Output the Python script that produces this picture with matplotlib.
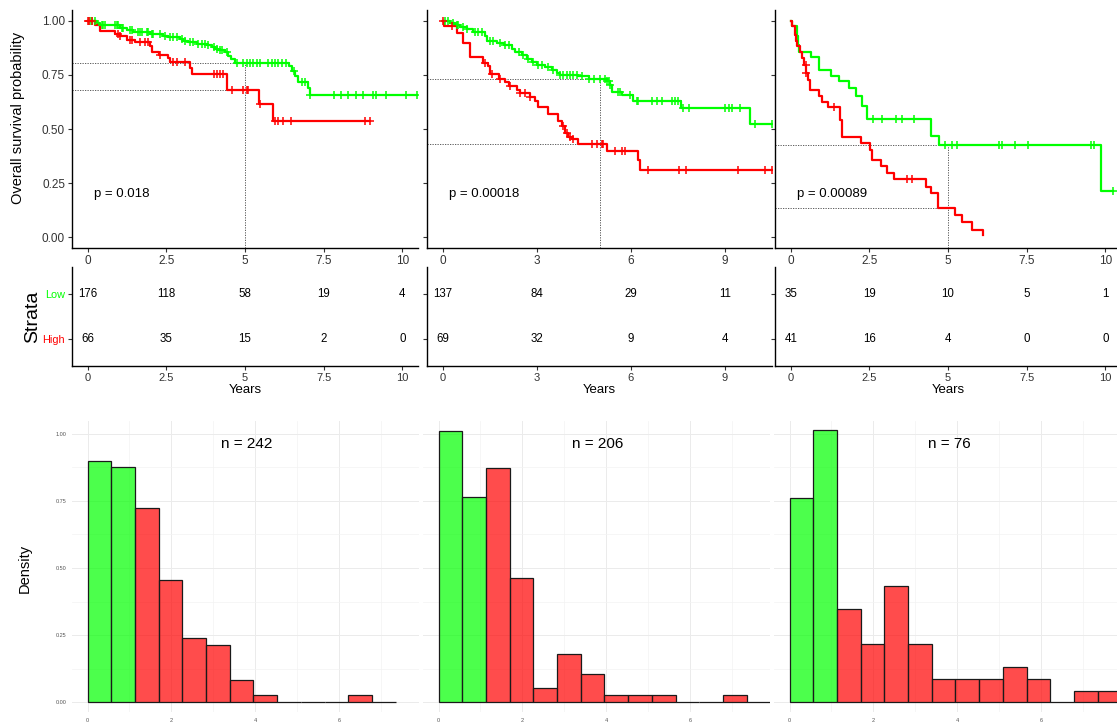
import numpy as np
import matplotlib
matplotlib.use("Agg")
import matplotlib.pyplot as plt

plt.rcParams['font.family'] = ['Liberation Sans', 'DejaVu Sans']

# ---------------- data ----------------
# Kaplan-Meier step functions (event times, survival after each event), end time, censor times
km1_low_t = [0.28, 0.39, 1.03, 1.24, 1.45, 1.98, 2.4, 2.56, 2.93, 3.04, 3.2, 3.46, 3.78, 3.94, 4.05, 4.15,
             4.36, 4.47, 4.57, 4.68, 6.41, 6.5, 6.6, 6.7, 7.0, 7.06]
km1_low_s = [0.99, 0.98, 0.969, 0.958, 0.949, 0.938, 0.931, 0.923, 0.915, 0.908, 0.9, 0.895, 0.887, 0.88, 0.872,
             0.864, 0.854, 0.838, 0.823, 0.806, 0.789, 0.766, 0.743, 0.718, 0.69, 0.655]
km1_low_end = 10.46
km1_low_c = [0.07, 0.13, 0.23, 0.44, 0.5, 0.55, 0.87, 0.92, 0.97, 1.08, 1.13, 1.34, 1.4, 1.61, 1.66, 1.72, 1.87,
             1.93, 2.03, 2.09, 2.3, 2.46, 2.62, 2.72, 2.83, 2.99, 3.09, 3.25, 3.36, 3.52, 3.62, 3.73, 3.83, 4.0,
             4.1, 4.2, 4.26, 4.42, 4.73, 4.95, 5.05, 5.16, 5.27, 5.37, 5.48, 5.74, 5.85, 5.95, 6.06, 6.17, 6.3,
             6.55, 6.8, 6.9, 7.06, 7.83, 8.06, 8.27, 8.54, 8.75, 9.07, 9.18, 9.49, 10.13, 10.46]
km1_high_t = [0.23, 0.39, 0.87, 1.03, 1.24, 1.5, 1.98, 2.03, 2.25, 2.56, 2.62, 3.25, 3.3, 4.42, 5.43, 5.88]
km1_high_s = [0.982, 0.951, 0.94, 0.928, 0.913, 0.902, 0.882, 0.858, 0.843, 0.828, 0.808, 0.782, 0.752, 0.678,
              0.614, 0.538]
km1_high_end = 8.97
km1_high_c = [0.02, 0.05, 0.13, 0.97, 1.03, 1.34, 1.4, 1.66, 1.82, 1.93, 2.3, 2.72, 2.83, 3.09, 4.0, 4.1, 4.2,
              4.3, 4.6, 4.95, 5.05, 5.1, 5.48, 5.95, 6.06, 6.2, 6.45, 8.8, 8.97]

km2_low_t = [0.23, 0.39, 0.55, 0.76, 0.98, 1.35, 1.4, 1.72, 1.94, 2.2, 2.31, 2.52, 2.68, 2.84, 3.0, 3.27, 3.48,
             3.64, 3.74, 4.33, 4.65, 5.23, 5.32, 5.39, 5.71, 6.08, 7.6, 9.79]
km2_low_s = [0.989, 0.98, 0.972, 0.963, 0.948, 0.928, 0.909, 0.897, 0.886, 0.871, 0.855, 0.84, 0.824, 0.809,
             0.797, 0.786, 0.774, 0.758, 0.751, 0.743, 0.732, 0.72, 0.704, 0.673, 0.655, 0.63, 0.596, 0.522]
km2_low_end = 10.55
km2_low_c = [0.07, 0.16, 0.34, 0.45, 0.5, 0.66, 0.77, 1.03, 1.14, 1.24, 1.51, 1.62, 1.83, 1.99, 2.1, 2.42, 2.57,
             2.73, 2.89, 3.05, 3.16, 3.37, 3.53, 3.74, 3.85, 3.96, 4.06, 4.17, 4.28, 4.44, 4.65, 4.81, 5.02, 5.18,
             5.23, 5.29, 5.34, 5.6, 5.66, 5.98, 6.19, 6.24, 6.67, 6.83, 6.99, 7.31, 7.41, 7.49, 7.65, 7.84, 9.01,
             9.12, 9.22, 9.47, 9.97, 10.5]
km2_high_t = [0.05, 0.45, 0.65, 0.88, 1.3, 1.46, 1.51, 1.78, 1.99, 2.1, 2.36, 2.47, 2.79, 2.95, 3.05, 3.37, 3.69,
              3.8, 3.9, 4.01, 4.12, 4.33, 5.23, 6.24, 6.29]
km2_high_s = [0.975, 0.945, 0.898, 0.835, 0.804, 0.789, 0.755, 0.732, 0.717, 0.7, 0.681, 0.666, 0.648, 0.628,
              0.602, 0.57, 0.537, 0.514, 0.483, 0.464, 0.452, 0.432, 0.4, 0.355, 0.31]
km2_high_end = 10.5
km2_high_c = [0.02, 0.29, 1.35, 1.56, 1.83, 2.15, 2.47, 2.63, 2.79, 3.85, 3.96, 4.06, 4.17, 4.75, 4.91, 5.07,
              5.12, 5.5, 5.71, 5.82, 6.56, 7.54, 7.76, 9.42, 10.27, 10.5]

km3_low_t = [0.05, 0.2, 0.24, 0.26, 0.63, 0.9, 1.27, 1.54, 1.85, 2.09, 2.26, 2.41, 4.45, 4.72, 9.88]
km3_low_s = [0.974, 0.93, 0.89, 0.858, 0.832, 0.774, 0.743, 0.72, 0.689, 0.651, 0.605, 0.548, 0.467, 0.427, 0.214]
km3_low_end = 10.23
km3_low_c = [2.6, 2.91, 3.34, 3.53, 3.92, 4.91, 5.14, 5.3, 6.62, 6.71, 7.13, 7.53, 9.54, 9.65, 10.23]
km3_high_t = [0.05, 0.13, 0.16, 0.21, 0.29, 0.37, 0.42, 0.48, 0.55, 0.6, 0.9, 0.98, 1.17, 1.56, 1.62, 2.22,
              2.51, 2.57, 2.86, 3.07, 3.28, 4.29, 4.45, 4.68, 5.23, 5.44, 5.76, 6.1]
km3_high_s = [0.977, 0.935, 0.905, 0.882, 0.858, 0.828, 0.797, 0.758, 0.728, 0.681, 0.651, 0.627, 0.601, 0.542,
              0.465, 0.434, 0.403, 0.357, 0.329, 0.298, 0.271, 0.233, 0.202, 0.135, 0.103, 0.072, 0.034, 0.008]
km3_high_end = 6.1
km3_high_c = [0.47, 0.5, 1.38, 3.71, 3.87]

p_values = ["p = 0.018", "p = 0.00018", "p = 0.00089"]

# Numbers at risk
risk_times = [[0, 2.5, 5, 7.5, 10], [0, 3, 6, 9], [0, 2.5, 5, 7.5, 10]]
risk_low = [[176, 118, 58, 19, 4], [137, 84, 29, 11], [35, 19, 10, 5, 1]]
risk_high = [[66, 35, 15, 2, 0], [69, 32, 9, 4], [41, 16, 4, 0, 0]]
km_xticks = [[0, 2.5, 5, 7.5, 10], [0, 3, 6, 9], [0, 2.5, 5, 7.5, 10]]
km_xticklabels = [["0", "2.5", "5", "7.5", "10"], ["0", "3", "6", "9"], ["0", "2.5", "5", "7.5", "10"]]
strata = ["Low", "High"]

# Histograms (density per bin, bins start at 0)
bin_width = 0.565
hist1 = [0.897, 0.875, 0.725, 0.457, 0.240, 0.214, 0.081, 0.027, 0, 0, 0, 0.027, 0]
hist2 = [1.009, 0.763, 0.873, 0.463, 0.052, 0.179, 0.103, 0.025, 0.025, 0.025, 0, 0, 0.025, 0]
hist3 = [0.760, 1.014, 0.346, 0.217, 0.433, 0.217, 0.087, 0.087, 0.087, 0.130, 0.087, 0, 0.042, 0.042]
n_green_bins = 2
hist_n = ["n = 242", "n = 206", "n = 76"]

# ---------------- styling ----------------
GREEN = "#00FF00"
RED = "#FF0000"
TXT = "#333333"
W, H = 1117, 727

fig = plt.figure(figsize=(W / 100, H / 100), dpi=100)


def ax_px(l, t, r, b):
    return fig.add_axes([l / W, 1 - b / H, (r - l) / W, (b - t) / H])


def step_val(times, surv, t):
    idx = np.searchsorted(np.asarray(times), t, side='right')
    vals = np.concatenate([[1.0], surv])
    return vals[idx]


km_data = [
    ((km1_low_t, km1_low_s, km1_low_end, km1_low_c), (km1_high_t, km1_high_s, km1_high_end, km1_high_c)),
    ((km2_low_t, km2_low_s, km2_low_end, km2_low_c), (km2_high_t, km2_high_s, km2_high_end, km2_high_c)),
    ((km3_low_t, km3_low_s, km3_low_end, km3_low_c), (km3_high_t, km3_high_s, km3_high_end, km3_high_c)),
]

km_boxes = [(72, 10, 418, 248), (427, 10, 772, 248), (775, 10, 1121, 248)]
risk_boxes = [(72, 267, 418, 366), (427, 267, 772, 366), (775, 267, 1121, 366)]
hist_boxes = [(72, 421, 419, 712), (423, 421, 770, 712), (774, 421, 1121, 712)]

XL = (-0.5, 10.5)

for i in range(3):
    # ---- KM plot ----
    ax = ax_px(*km_boxes[i])
    ax.set_xlim(*XL)
    ax.set_ylim(-0.05, 1.05)
    s5 = []
    for (t, s, end, c), col in zip(km_data[i], [GREEN, RED]):
        xs = [0] + list(t) + [end]
        ys = [1.0] + list(s) + [s[-1]]
        ax.step(xs, ys, where='post', color=col, lw=1.6, zorder=3, clip_on=True)
        cy = step_val(t, s, np.asarray(c))
        ax.plot(c, cy, ls='none', marker='+', ms=6, mew=1.1, color=col, zorder=4)
        s5.append(step_val(t, s, np.asarray([5.0]))[0])
    for v in s5:
        ax.plot([XL[0], 5], [v, v], color='#444444', lw=0.6, ls=(0, (1.5, 1.5)), zorder=2)
    ax.plot([5, 5], [-0.05, max(s5)], color='#444444', lw=0.6, ls=(0, (1.5, 1.5)), zorder=2)
    ax.text(0.2, 0.2, p_values[i], fontsize=9.5, ha='left', va='center', color='black')
    for sp in ['top', 'right']:
        ax.spines[sp].set_visible(False)
    for sp in ['left', 'bottom']:
        ax.spines[sp].set_linewidth(1.0)
        ax.spines[sp].set_color('black')
    ax.set_yticks([0, 0.25, 0.5, 0.75, 1.0])
    ax.set_xticks(km_xticks[i])
    ax.set_xticklabels(km_xticklabels[i])
    if i == 0:
        ax.set_yticklabels(["0.00", "0.25", "0.50", "0.75", "1.00"])
    else:
        ax.set_yticklabels([])
    ax.tick_params(length=3, width=0.8, color=TXT, labelsize=8.5, labelcolor=TXT, pad=2)

    # ---- risk table ----
    rx = ax_px(*risk_boxes[i])
    rx.set_xlim(*XL)
    rx.set_ylim(0.4, 2.6)
    for tt, lo, hi in zip(risk_times[i], risk_low[i], risk_high[i]):
        rx.text(tt, 2, str(lo), ha='center', va='center', fontsize=8.3, color='black')
        rx.text(tt, 1, str(hi), ha='center', va='center', fontsize=8.3, color='black')
    for sp in ['top', 'right']:
        rx.spines[sp].set_visible(False)
    for sp in ['left', 'bottom']:
        rx.spines[sp].set_linewidth(1.0)
        rx.spines[sp].set_color('black')
    rx.set_yticks([2, 1])
    rx.set_xticks(km_xticks[i])
    rx.set_xticklabels(km_xticklabels[i])
    rx.tick_params(length=3, width=0.8, color=TXT, labelsize=8, labelcolor=TXT, pad=2)
    if i == 0:
        rx.set_yticklabels(strata, fontsize=7.8)
        for lab, col in zip(rx.get_yticklabels(), [GREEN, RED]):
            lab.set_color(col)
    else:
        rx.set_yticklabels([])
    rx.set_xlabel("Years", fontsize=9.5, labelpad=1, color='black')

    # ---- histogram ----
    hx = ax_px(*hist_boxes[i])
    dens = [hist1, hist2, hist3][i]
    edges = np.arange(len(dens)) * bin_width
    cols = [(0, 1, 0, 0.7) if k < n_green_bins else (1, 0, 0, 0.7) for k in range(len(dens))]
    hx.bar(edges, dens, width=bin_width, align='edge', color=cols, edgecolor='#1a1a1a', linewidth=0.9,
           zorder=3)
    hx.set_xlim(-0.37, 7.9)
    hx.set_ylim(-0.037, 1.048)
    hx.set_xticks([0, 2, 4, 6])
    hx.set_xticks([1, 3, 5, 7], minor=True)
    hx.set_yticks([0, 0.25, 0.5, 0.75, 1.0])
    hx.set_yticks([0.125, 0.375, 0.625, 0.875], minor=True)
    hx.grid(which='major', color='#EBEBEB', lw=0.7)
    hx.grid(which='minor', color='#F3F3F3', lw=0.5)
    hx.set_axisbelow(True)
    for sp in hx.spines.values():
        sp.set_visible(False)
    if i == 0:
        hx.set_yticklabels(["0.00", "0.25", "0.50", "0.75", "1.00"])
    else:
        hx.set_yticklabels([])
    hx.tick_params(which='both', length=0, labelsize=4, labelcolor='#555555', pad=4)
    hx.text(3.8, 0.963, hist_n[i], ha='center', va='center', fontsize=11, color='black')

fig.text(18 / W, 1 - 118 / H, "Overall survival probability", rotation=90, ha='center', va='center',
         fontsize=10.5, color='black')
fig.text(33 / W, 1 - 317 / H, "Strata", rotation=90, ha='center', va='center', fontsize=14, color='black')
fig.text(25 / W, 1 - 568 / H, "Density", rotation=90, ha='center', va='center', fontsize=10.5, color='black')

fig.savefig("out.png", dpi=100)
